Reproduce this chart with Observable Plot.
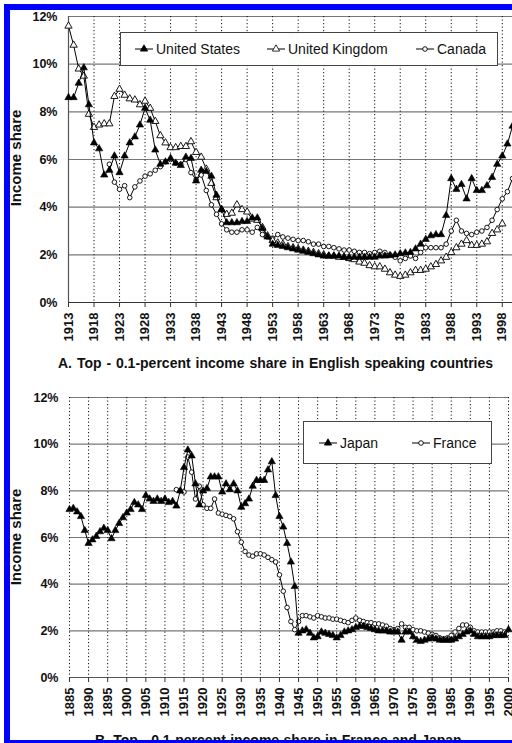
<!DOCTYPE html>
<html><head><meta charset="utf-8">
<script src="https://cdn.jsdelivr.net/npm/d3@7"></script>
<script src="https://cdn.jsdelivr.net/npm/@observablehq/plot@0.6"></script>
<style>
body{margin:0;width:512px;height:743px;overflow:hidden;position:relative;background:#fff;font-family:"Liberation Sans",Arial,sans-serif;color:#111;}
.abs{position:absolute;}
.frame{position:absolute;left:4px;top:4px;width:600px;height:742px;box-sizing:border-box;border:6px solid #0000ff;pointer-events:none;z-index:10;}
.ylab{position:absolute;font-weight:bold;font-size:15px;transform:translate(-50%,-50%) rotate(-90deg);white-space:nowrap;}
.title{position:absolute;font-weight:bold;font-size:14px;white-space:nowrap;}
.legend{position:absolute;border:1px solid #444;background:#fff;box-sizing:border-box;z-index:5;}
.li{position:absolute;font-size:14px;white-space:nowrap;z-index:6;transform:translateY(-50%);display:flex;align-items:center;}
.li svg{margin-right:3px;}
</style></head><body>
<div id="a" class="abs" style="left:0;top:0"></div>
<div id="b" class="abs" style="left:0;top:380px"></div>
<div class="ylab" style="left:15px;top:158px">Income share</div>
<div class="ylab" style="left:15px;top:537px">Income share</div>
<div class="title" style="left:58px;top:355px;word-spacing:1px">A. Top - 0.1-percent income share in English speaking countries</div>
<div class="title" style="left:95px;top:732px;word-spacing:0.4px">B. Top - 0.1-percent income share in France and Japan</div>
<div class="legend" style="left:120px;top:32px;width:378px;height:34px"></div>
<div class="legend" style="left:303px;top:421px;width:189px;height:43px"></div>
<div id="legends"></div>
<div class="frame"></div>
<script>
// ---------- Panel A: English speaking countries ----------
const usStart = 1913;
const usValues = [8.6,8.6,9.2,9.85,8.3,6.7,6.45,5.35,5.55,6.15,
  5.45,6.15,6.7,6.95,7.45,8.15,7.65,6.4,5.8,5.9,
  6.05,5.85,5.75,6.1,6.05,5.1,5.55,5.5,5.3,4.5,
  3.9,3.35,3.35,3.35,3.4,3.4,3.55,3.55,3.1,2.75,
  2.45,2.4,2.35,2.3,2.25,2.2,2.15,2.1,2.05,2.0,
  1.95,1.95,1.95,1.95,1.9,1.9,1.9,1.9,1.9,1.9,
  1.9,1.95,1.95,1.97,2.0,2.05,2.08,2.1,2.25,2.45,
  2.65,2.8,2.85,2.85,3.65,5.2,4.75,4.95,4.35,5.2,
  4.7,4.7,4.9,5.25,5.8,6.15,6.65,7.4];
const ukStart = 1913;
const ukValues = [11.6,10.8,9.8,9.5,7.9,7.35,7.45,7.5,7.5,8.65,
  8.95,8.7,8.55,8.5,8.3,8.45,8.15,7.6,7.0,6.7,
  6.5,6.5,6.55,6.55,6.75,6.3,6.1,5.6,5.0,4.4,
  3.9,3.7,3.75,4.1,3.9,3.8,3.5,3.45,3.15,2.8,
  2.6,2.5,2.45,2.35,2.3,2.25,2.2,2.15,2.1,2.05,
  2.0,1.95,1.95,1.9,1.9,1.85,1.8,1.7,1.65,1.55,
  1.5,1.5,1.4,1.25,1.15,1.1,1.15,1.25,1.35,1.35,
  1.4,1.5,1.6,1.75,1.9,2.1,2.3,2.45,2.6,2.4,
  2.4,2.45,2.55,2.9,3.05,3.3];
const caStart = 1921;
const caValues = [5.8,5.05,4.75,4.9,4.4,4.85,5.1,5.3,5.4,5.55,
  5.7,5.9,6.0,5.85,5.8,6.0,5.45,5.15,5.35,4.7,
  4.1,3.7,3.3,3.05,2.95,2.95,3.05,3.05,2.95,3.15,
  2.85,2.75,2.7,2.85,2.75,2.7,2.65,2.6,2.6,2.55,
  2.45,2.45,2.35,2.35,2.3,2.25,2.2,2.2,2.15,2.1,
  2.1,2.05,2.1,2.15,2.1,2.0,1.9,1.75,1.85,1.95,
  1.85,2.1,2.3,2.3,2.3,2.3,2.45,3.0,3.45,3.0,
  2.9,2.85,2.95,3.0,3.15,3.45,3.9,4.35,4.65,5.2];
const xTicksA = [1913,1918,1923,1928,1933,1938,1943,1948,1953,1958,1963,1968,1973,1978,1983,1988,1993,1998];

// ---------- Panel B: France and Japan ----------
const jpStart = 1885;
const jpValues = [7.2,7.25,7.1,6.9,6.3,5.75,5.9,6.05,6.25,6.4,
  6.3,5.95,6.3,6.6,6.85,7.05,7.2,7.5,7.4,7.2,
  7.8,7.65,7.55,7.65,7.55,7.65,7.5,7.55,7.35,8.0,
  9.0,9.75,9.5,8.3,7.4,8.0,8.1,8.6,8.6,8.6,
  7.95,8.3,8.05,8.3,8.0,7.3,7.45,7.65,8.2,8.45,
  8.45,8.45,8.9,9.25,7.8,6.9,6.45,5.75,4.95,3.9,
  1.9,2.0,2.05,1.9,1.7,1.75,1.95,1.9,1.85,1.8,
  1.7,1.8,1.95,2.0,2.05,2.15,2.2,2.2,2.15,2.1,
  2.05,2.0,2.0,2.0,1.95,1.95,1.95,1.6,1.95,1.95,
  1.75,1.6,1.55,1.6,1.65,1.7,1.65,1.6,1.6,1.6,
  1.6,1.65,1.75,1.85,1.95,2.0,1.85,1.75,1.75,1.75,
  1.75,1.8,1.8,1.8,1.8,2.05];
const frStart = 1913;
const frValues = [8.05,8.0,7.95,9.45,8.8,7.65,8.2,7.4,7.25,7.25,
  7.65,7.05,7.0,6.95,6.9,6.8,6.25,5.8,5.4,5.25,
  5.2,5.3,5.3,5.25,5.15,5.05,4.95,4.4,3.7,3.0,
  2.4,2.05,2.4,2.65,2.65,2.6,2.55,2.65,2.6,2.55,
  2.55,2.5,2.5,2.45,2.4,2.35,2.45,2.55,2.45,2.4,
  2.35,2.35,2.3,2.3,2.25,2.2,2.1,2.05,2.1,2.3,
  2.15,2.15,2.05,2.0,2.0,1.95,1.9,1.85,1.8,1.7,
  1.65,1.7,1.8,1.95,2.1,2.25,2.25,2.15,2.0,1.95,
  1.95,1.95,1.95,1.95,2.0,2.0,1.95];
const xTicksB = [1885,1890,1895,1900,1905,1910,1915,1920,1925,1930,1935,1940,1945,1950,1955,1960,1965,1970,1975,1980,1985,1990,1995,2000];
const yTicks = [0,2,4,6,8,10,12];

const toRows = (start, vals) => vals.map((v, i) => ({year: start + i, share: v}));
const us = toRows(usStart, usValues), uk = toRows(ukStart, ukValues), ca = toRows(caStart, caValues);
const jp = toRows(jpStart, jpValues), fr = toRows(frStart, frValues);

const font = "'Liberation Sans', Arial, sans-serif";
const tri = (data, filled) => [
  Plot.line(data, {x: "year", y: "share", stroke: "#000", strokeWidth: 1}),
  Plot.dot(data, {x: "year", y: "share", symbol: "triangle", r: 2.7, fill: filled ? "#000" : "#fff", stroke: "#000", strokeWidth: filled ? 0.6 : 0.9})
];
const circ = (data) => [
  Plot.line(data, {x: "year", y: "share", stroke: "#000", strokeWidth: 1}),
  Plot.dot(data, {x: "year", y: "share", symbol: "circle", r: 2.3, fill: "#fff", stroke: "#000", strokeWidth: 0.9})
];
const baseStyle = {background: "transparent", fontFamily: font, fontSize: "12.5px", fontWeight: "bold", color: "#111", overflow: "visible"};

const chartA = Plot.plot({
  width: 512, height: 345,
  marginLeft: 68, marginRight: 0, marginTop: 16, marginBottom: 43,
  style: baseStyle,
  x: {domain: [1913, 2000]},
  y: {domain: [0, 12]},
  marks: [
    Plot.gridY(yTicks, {stroke: "#777", strokeOpacity: 1, strokeWidth: 1.2}),
    Plot.gridX(xTicksA.slice(1), {stroke: "#111", strokeOpacity: 1, strokeDasharray: "1.2,2.3"}),
    Plot.ruleX([1913], {stroke: "#555", strokeWidth: 1.2}),
    Plot.ruleY([0], {stroke: "#333", strokeWidth: 1.2}),
    Plot.axisX(xTicksA, {tickRotate: -90, tickSize: 5, tickPadding: 5, fontSize: 13, tickFormat: d => `${d}`, label: null, stroke: "#333"}),
    Plot.axisY(yTicks, {tickSize: 0, tickPadding: 11, tickFormat: d => `${d}%`, label: null}),
    ...circ(ca),
    ...tri(uk, false),
    ...tri(us, true)
  ]
});
document.getElementById("a").append(chartA);

const chartB = Plot.plot({
  width: 512, height: 345,
  marginLeft: 69, marginRight: 4, marginTop: 17, marginBottom: 48,
  style: baseStyle,
  x: {domain: [1885, 2000]},
  y: {domain: [0, 12]},
  marks: [
    Plot.gridY(yTicks, {stroke: "#777", strokeOpacity: 1, strokeWidth: 1.2}),
    Plot.gridX(xTicksB, {stroke: "#111", strokeOpacity: 1, strokeDasharray: "1.2,2.3"}),
    Plot.ruleY([0], {stroke: "#555", strokeWidth: 1.2}),
    Plot.axisX(xTicksB, {tickRotate: -90, tickSize: 5, tickPadding: 5, fontSize: 13, tickFormat: d => `${d}`, label: null, stroke: "#333"}),
    Plot.axisY(yTicks, {tickSize: 0, tickPadding: 11, tickFormat: d => `${d}%`, label: null}),
    ...circ(fr),
    ...tri(jp, true)
  ]
});
document.getElementById("b").append(chartB);

// ---------- Legends ----------
const legendItems = [
  {name: "United States", sym: "tri", fill: "#000", left: 135, top: 49},
  {name: "United Kingdom", sym: "tri", fill: "#fff", left: 267, top: 49},
  {name: "Canada", sym: "circ", fill: "#fff", left: 416, top: 49},
  {name: "Japan", sym: "tri", fill: "#000", left: 319, top: 443},
  {name: "France", sym: "circ", fill: "#fff", left: 412, top: 443}
];
const triPath = d3.symbol(d3.symbolTriangle, 2.7 * 2.7 * Math.PI)();
const host = document.getElementById("legends");
for (const it of legendItems) {
  const div = document.createElement("div");
  div.className = "li";
  div.style.left = it.left + "px";
  div.style.top = it.top + "px";
  const shape = it.sym === "tri"
    ? `<path d="${triPath}" transform="translate(9,6)" fill="${it.fill}" stroke="#000" stroke-width="0.8"/>`
    : `<circle cx="9" cy="6" r="2.3" fill="#fff" stroke="#000" stroke-width="0.9"/>`;
  div.innerHTML = `<svg width="18" height="12"><line x1="0" x2="18" y1="6" y2="6" stroke="#000" stroke-width="1"/>${shape}</svg><span>${it.name}</span>`;
  host.append(div);
}
</script>
</body></html>
